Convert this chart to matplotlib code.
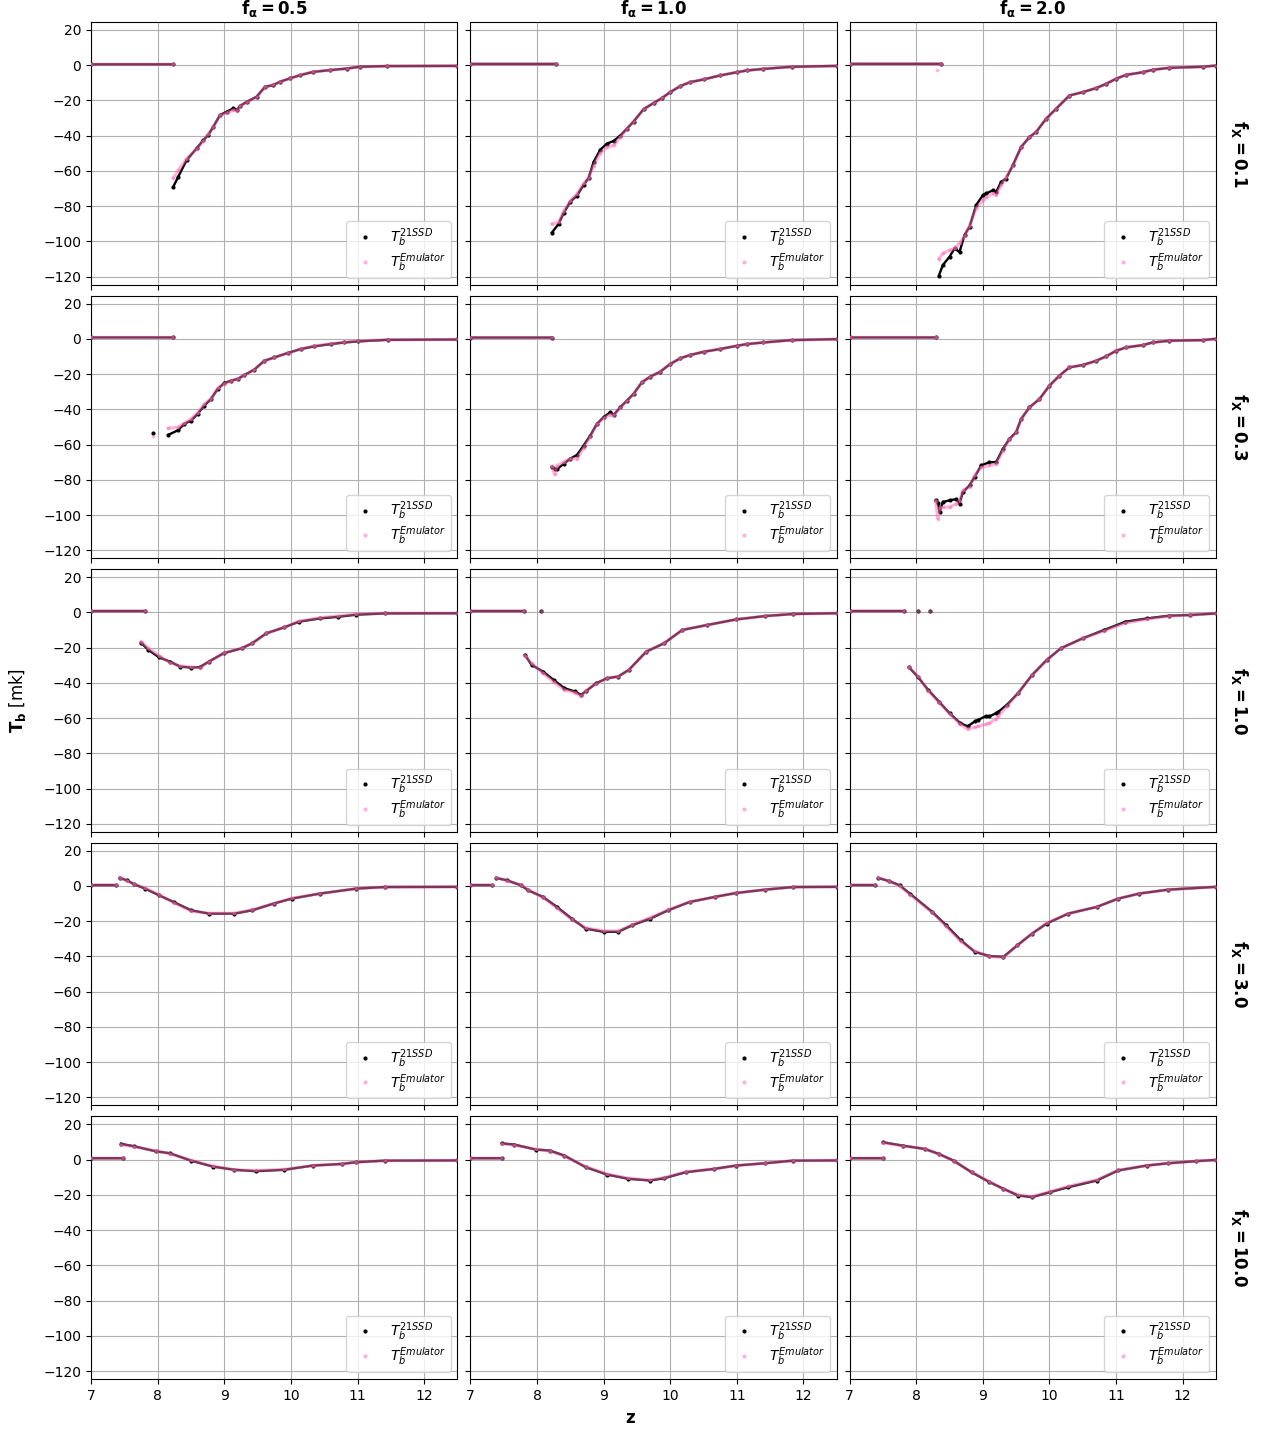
import numpy as np
import matplotlib.pyplot as plt
from matplotlib.lines import Line2D

nan = np.nan

F_ALPHA = [0.5, 1.0, 2.0]
F_X = [0.1, 0.3, 1.0, 3.0, 10.0]

# ---- f_X = 0.1 ----
Z_X01_A05 = [7.0, 8.23, nan, 8.235, 8.31, 8.435, 8.585, 8.685, 8.76, 8.835, 8.935, 9.035, 9.135, 9.185, 9.235,
             9.335, 9.485, 9.61, 9.735, 9.835, 9.985, 10.135, 10.335, 10.585, 10.835, 11.035, 11.435, 12.5]
SSD_X01_A05 = [0.5, 0.5, nan, -68.9, -63.2, -53.8, -47.2, -42.5, -39.6, -34.9, -28.3, -26.4, -24.5, -25.5, -23.2,
               -20.8, -17.9, -12.3, -11.3, -9.4, -7.5, -5.7, -3.8, -2.8, -1.9, -0.9, -0.5, -0.4]
EMU_X01_A05 = [0.5, 0.5, nan, -64.0, -59.5, -53.0, -47.5, -43.0, -39.0, -35.0, -28.5, -27.0, -25.5, -26.0, -23.0,
               -21.0, -18.0, -12.5, -11.0, -9.5, -7.5, -5.5, -3.8, -2.8, -2.0, -1.0, -0.5, -0.4]

Z_X01_A10 = [7.0, 8.29, nan, 8.225, 8.325, 8.4, 8.5, 8.6, 8.7, 8.775, 8.85, 8.95, 9.05, 9.15, 9.25, 9.35, 9.45,
             9.6, 9.75, 9.875, 10.0, 10.15, 10.3, 10.5, 10.75, 11.0, 11.15, 11.4, 11.825, 12.5]
SSD_X01_A10 = [0.7, 0.7, nan, -95, -90, -84, -77.5, -74, -68, -64, -55, -48, -44.5, -43, -40, -36, -32,
               -25, -21.5, -18.7, -15.3, -11.9, -9.6, -8.1, -5.8, -4.0, -3.0, -2.1, -0.9, -0.4]
EMU_X01_A10 = [0.7, 0.7, nan, -90, -89, -83, -77, -73, -67, -64, -57, -50, -46.4, -45.5, -41, -36, -32,
               -25, -21.5, -18.7, -15.3, -11.9, -9.6, -8.1, -5.8, -4.0, -3.0, -2.1, -0.9, -0.4]

Z_X01_A20 = [7.0, 8.375, nan, 8.31, nan, 8.34, 8.4, 8.5, 8.575, 8.65, 8.725, 8.8, 8.9, 9.0, 9.05, 9.15, 9.2, 9.275,
             9.35, 9.45, 9.575, 9.7, 9.8, 9.95, 10.1, 10.3, 10.5, 10.7, 10.85, 11.0, 11.15, 11.4, 11.55, 11.8,
             12.3, 12.5]
SSD_X01_A20 = [0.75, 0.75, nan, nan, nan, -119.4, -113.4, -108.7, -104, -106, -96.4, -91.7, -79.4, -73.8, -72.8,
               -71, -72, -66.2, -64.3, -56.8, -46.4, -40.8, -37.9, -30.4, -24.7, -17.2, -15.3, -13.0, -10.6, -7.7,
               -5.5, -4.0, -2.6, -1.5, -0.9, -0.2]
EMU_X01_A20 = [0.75, 0.75, nan, -2.6, nan, -110, -106.8, -104.9, -104, -101, -97, -91, -81.3, -76.6, -75,
               -72.8, -73.8, -68, -63.4, -57, -46.4, -40.8, -37.9, -30.4, -24.7, -17.2, -15.3, -13.0, -10.6, -7.7,
               -5.5, -4.0, -2.6, -1.5, -0.9, -0.2]

# ---- f_X = 0.3 ----
Z_X03_A05 = [7.0, 8.225, nan, 7.935, nan, 8.16, 8.3, 8.4, 8.5, 8.6, 8.7, 8.8, 8.9, 9.0, 9.1, 9.2, 9.3, 9.45, 9.6,
             9.75, 9.95, 10.15, 10.35, 10.6, 10.8, 11.0, 11.45, 12.5]
SSD_X03_A05 = [0.75, 0.75, nan, -53.4, nan, -54.5, -52, -48.3, -46.4, -42.6, -37.9, -34.2, -28.5, -25.1, -23.8,
               -22.8, -20.6, -17.5, -12.5, -10.6, -8.1, -5.8, -4.3, -3.0, -2.1, -1.5, -0.6, -0.4]
EMU_X03_A05 = [0.75, 0.75, nan, -54.9, nan, -50.8, -50.2, -48, -45.5, -42, -37, -34, -28, -25.5, -24,
               -22.8, -20.6, -17.5, -12.5, -10.6, -8.1, -5.8, -4.0, -2.8, -2.0, -1.2, -0.6, -0.4]

Z_X03_A10 = [7.0, 8.225, nan, 8.225, 8.265, 8.3, 8.4, 8.5, 8.6, 8.7, 8.8, 8.9, 9.0, 9.1, 9.15, 9.25, 9.35, 9.45,
             9.575, 9.7, 9.85, 10.0, 10.15, 10.3, 10.5, 10.75, 11.0, 11.15, 11.4, 11.825, 12.5]
SSD_X03_A10 = [0.7, 0.7, nan, -72.8, -74, -74, -71, -68, -66, -60.6, -54.9, -48.3, -44.5, -41.7, -43.2, -38.9,
               -35.1, -31.3, -24.7, -21.5, -18.7, -14.3, -11.1, -9.2, -7.4, -5.8, -4.0, -3.0, -2.1, -0.75, -0.2]
EMU_X03_A10 = [0.7, 0.7, nan, -72.3, -77, -72, -70, -68, -68, -62, -55.5, -48.5, -45, -43, -43.5, -39,
               -35.1, -31.3, -24.7, -21.5, -18.7, -14.3, -11.1, -9.2, -7.4, -5.8, -4.0, -3.0, -2.1, -0.75, -0.2]

Z_X03_A20 = [7.0, 8.3, nan, 8.29, 8.325, 8.35, 8.4, 8.5, 8.6, 8.65, 8.7, 8.8, 8.875, 8.975, 9.1, 9.2, 9.3, 9.4,
             9.5, 9.575, 9.7, 9.85, 10.0, 10.15, 10.3, 10.5, 10.7, 10.85, 11.0, 11.15, 11.4, 11.55, 11.8, 12.3, 12.5]
SSD_X03_A20 = [0.75, 0.75, nan, -91.7, -93, -98.3, -92.6, -91.7, -91, -93.6, -87, -83.2, -78.5, -71.9, -70, -70,
               -62.5, -56.8, -53, -45.5, -38.9, -34.2, -26.6, -20.9, -16.2, -14.9, -12.5, -10, -6.8, -4.9, -3.6,
               -2.1, -1.1, -0.75, 0]
EMU_X03_A20 = [0.75, 0.75, nan, -92, -102, -96, -95.5, -95.5, -93.6, -92, -86, -84, -77.5, -73, -71.9, -71,
               -63.4, -57, -53, -45.5, -38.9, -34.2, -26.6, -20.9, -16.2, -14.9, -12.5, -10, -6.8, -4.9, -3.6,
               -2.1, -1.1, -0.75, 0]

# ---- f_X = 1.0 ----
Z_X10_A05 = [7.0, 7.81, nan, 7.75, 7.86, 8.02, 8.18, 8.34, 8.5, 8.63, 8.77, 8.99, 9.26, 9.42, 9.63, 9.9, 10.12,
             10.44, 10.71, 10.98, 11.41, 12.5]
SSD_X10_A05 = [0.75, 0.75, nan, -17.2, -21.3, -25.5, -27.9, -30.8, -31.3, -31.1, -27.9, -23.2, -20.4, -17.5,
               -11.9, -8.5, -5.3, -3.4, -2.5, -1.3, -0.6, -0.5]
EMU_X10_A05 = [0.75, 0.75, nan, -16.6, -20.4, -24.5, -28.5, -30.5, -31.0, -31.5, -28, -23, -20.4, -17.5,
               -11.9, -8.5, -5.0, -3.0, -2.0, -1.0, -0.5, -0.5]

Z_X10_A10 = [7.0, 7.8, nan, 8.06, nan, 7.82, 7.92, 8.09, 8.25, 8.41, 8.57, 8.66, 8.73, 8.89, 9.05, 9.22, 9.38,
             9.64, 9.91, 10.18, 10.55, 10.99, 11.42, 11.85, 12.5]
SSD_X10_A10 = [0.75, 0.75, nan, 0.9, nan, -24.2, -29.8, -33.6, -38.3, -43, -44.9, -46.8, -44.9, -40.2, -37.4,
               -36.4, -32.6, -22.3, -17.5, -10, -7.2, -4.0, -2.1, -0.9, -0.5]
EMU_X10_A10 = [0.75, 0.75, nan, 0.9, nan, -24.5, -29, -34.5, -39.5, -44, -45.5, -47.4, -44.5, -40.5, -37.4,
               -36.4, -32.6, -22.3, -17.5, -10, -7.2, -4.0, -2.1, -0.9, -0.5]

Z_X10_A20 = [7.0, 7.81, nan, 8.02, nan, 8.21, nan, 7.89, 8.02, 8.18, 8.34, 8.5, 8.66, 8.77, 8.88, 8.93, 9.04, 9.1,
             9.2, 9.23, 9.36, 9.53, 9.74, 9.96, 10.17, 10.5, 10.82, 11.14, 11.47, 11.79, 12.11, 12.5]
SSD_X10_A20 = [0.75, 0.75, nan, 0.75, nan, 0.75, nan, -31.1, -36.4, -44, -50.6, -57.2, -62.8, -64.7, -61.9, -61,
               -59, -59, -57.2, -56.5, -52.5, -45.8, -35.5, -27, -20.4, -14.7, -10, -5.3, -3.4, -1.9, -1.5, -0.6]
EMU_X10_A20 = [0.75, 0.75, nan, 0.75, nan, 0.75, nan, -31, -36, -44.5, -51, -57.5, -63.5, -66.2, -65, -64.7,
               -63.5, -62.8, -60.5, -59, -53.4, -45.8, -35.5, -27, -20.4, -14.7, -10.5, -6, -3.8, -2.2, -1.5, -0.6]

# ---- f_X = 3.0 ----
Z_X30_A05 = [7.0, 7.38, nan, 7.43, 7.54, 7.65, 7.81, 8.02, 8.24, 8.5, 8.77, 9.15, 9.42, 9.74, 10.01, 10.44,
             10.98, 11.41, 12.5]
SSD_X30_A05 = [0.5, 0.5, nan, 4.5, 3.2, 0.9, -1.5, -5.3, -9.1, -13.8, -15.7, -15.7, -13.8, -10, -7.2, -4.3,
               -1.5, -0.6, -0.5]
EMU_X30_A05 = [0.5, 0.5, nan, 4.8, 3.0, 1.0, -1.2, -5.0, -9.5, -14.2, -15.5, -15.5, -13.5, -10, -7.0, -4.3,
               -1.5, -0.6, -0.5]

Z_X30_A10 = [7.0, 7.33, nan, 7.39, 7.55, 7.76, 7.87, 8.09, 8.3, 8.52, 8.73, 9.0, 9.22, 9.43, 9.7, 9.97, 10.29,
             10.67, 10.99, 11.42, 11.85, 12.5]
SSD_X30_A10 = [0.5, 0.5, nan, 4.5, 3.2, 0.4, -2.5, -6.2, -11.9, -18.5, -24.2, -26, -26, -22.3, -18.5, -13.8,
               -9.1, -6.2, -4.0, -2.1, -0.6, -0.5]
EMU_X30_A10 = [0.5, 0.5, nan, 4.8, 3.0, 0.6, -2.2, -6.5, -12.5, -19.0, -23.8, -25.5, -25.5, -22.0, -18.0,
               -13.5, -9.1, -6.2, -4.0, -2.1, -0.6, -0.5]

Z_X30_A20 = [7.0, 7.38, nan, 7.43, 7.59, 7.75, 7.91, 8.24, 8.45, 8.67, 8.88, 9.1, 9.31, 9.52, 9.74, 9.96, 10.28,
             10.71, 11.03, 11.35, 11.78, 12.5]
SSD_X30_A20 = [0.5, 0.5, nan, 4.5, 2.8, 0.4, -4.5, -14.7, -22.3, -30.8, -37.4, -39.8, -40.2, -33.6, -27, -21.3,
               -15.7, -11.9, -7.2, -4.3, -2.1, -0.5]
EMU_X30_A20 = [0.5, 0.5, nan, 4.8, 2.6, 0.2, -5.0, -15.0, -23.0, -31.5, -37.0, -40.0, -40.5, -33.6, -27, -21.0,
               -15.7, -11.9, -7.2, -4.3, -2.1, -0.5]

# ---- f_X = 10.0 ----
Z_X100_A05 = [7.0, 7.48, nan, 7.45, 7.65, 7.97, 8.18, 8.5, 8.83, 9.15, 9.47, 9.9, 10.33, 10.76, 10.98, 11.41, 12.5]
SSD_X100_A05 = [0.75, 0.75, nan, 8.9, 7.5, 4.7, 3.6, -0.6, -4.0, -5.8, -6.6, -5.8, -3.4, -2.5, -1.5, -0.6, -0.5]
EMU_X100_A05 = [0.75, 0.75, nan, 8.5, 7.3, 4.9, 3.4, -0.4, -3.8, -5.8, -6.2, -5.6, -3.4, -2.5, -1.5, -0.6, -0.5]

Z_X100_A10 = [7.0, 7.47, nan, 7.47, 7.66, 7.98, 8.19, 8.41, 8.73, 9.05, 9.37, 9.7, 9.91, 10.23, 10.66, 10.99,
              11.42, 11.85, 12.5]
SSD_X100_A10 = [0.75, 0.75, nan, 9.2, 8.5, 5.7, 5.1, 2.3, -4.3, -8.5, -10.9, -11.9, -10.6, -7.2, -5.3, -3.4,
                -2.1, -0.6, -0.5]
EMU_X100_A10 = [0.75, 0.75, nan, 9.0, 8.2, 5.9, 4.8, 2.0, -4.0, -8.2, -10.6, -11.6, -10.2, -7.0, -5.3, -3.4,
                -2.1, -0.6, -0.5]

Z_X100_A20 = [7.0, 7.5, nan, 7.5, 7.8, 8.13, 8.34, 8.56, 8.83, 9.1, 9.31, 9.53, 9.74, 10.01, 10.28, 10.71, 11.03,
              11.46, 11.78, 12.2, 12.5]
SSD_X100_A20 = [0.75, 0.75, nan, 9.8, 7.9, 6.0, 3.2, -0.6, -7.2, -12.8, -16.6, -20.4, -21.3, -18.5, -15.7, -11.9,
                -6.2, -3.4, -2.1, -0.9, -0.2]
EMU_X100_A20 = [0.75, 0.75, nan, 9.6, 7.7, 6.2, 3.0, -0.8, -7.0, -12.5, -16.8, -20.0, -21.0, -18.2, -15.2, -11.5,
                -6.0, -3.4, -2.1, -0.9, -0.2]

Z_ALL = [[Z_X01_A05, Z_X01_A10, Z_X01_A20],
         [Z_X03_A05, Z_X03_A10, Z_X03_A20],
         [Z_X10_A05, Z_X10_A10, Z_X10_A20],
         [Z_X30_A05, Z_X30_A10, Z_X30_A20],
         [Z_X100_A05, Z_X100_A10, Z_X100_A20]]
SSD_ALL = [[SSD_X01_A05, SSD_X01_A10, SSD_X01_A20],
           [SSD_X03_A05, SSD_X03_A10, SSD_X03_A20],
           [SSD_X10_A05, SSD_X10_A10, SSD_X10_A20],
           [SSD_X30_A05, SSD_X30_A10, SSD_X30_A20],
           [SSD_X100_A05, SSD_X100_A10, SSD_X100_A20]]
EMU_ALL = [[EMU_X01_A05, EMU_X01_A10, EMU_X01_A20],
           [EMU_X03_A05, EMU_X03_A10, EMU_X03_A20],
           [EMU_X10_A05, EMU_X10_A10, EMU_X10_A20],
           [EMU_X30_A05, EMU_X30_A10, EMU_X30_A20],
           [EMU_X100_A05, EMU_X100_A10, EMU_X100_A20]]

EMU_COLOR = "hotpink"


def main():
    fig, axes = plt.subplots(5, 3, figsize=(12.7, 14.3), dpi=100, sharex=True, sharey=True)
    fig.subplots_adjust(left=0.0717, right=0.9575, top=0.9846, bottom=0.0357, wspace=0.035, hspace=0.042)

    # legend shows plain dots, as in a scatter plot
    handles = [
        Line2D([], [], ls="", marker="o", ms=2, color="black"),
        Line2D([], [], ls="", marker="o", ms=3, color=EMU_COLOR, alpha=0.5, mec="none"),
    ]
    labels = [r"$T_b^{21SSD}$", r"$T_b^{Emulator}$"]

    for i, fx in enumerate(F_X):
        for j, fa in enumerate(F_ALPHA):
            ax = axes[i, j]
            ax.plot(Z_ALL[i][j], SSD_ALL[i][j], color="black", lw=1.7, marker="o", ms=2, zorder=3)
            ax.plot(Z_ALL[i][j], EMU_ALL[i][j], color=EMU_COLOR, alpha=0.5, lw=2.3, marker="o", ms=2.6,
                    mec="none", zorder=4)
            ax.grid(True)
            ax.set_xlim(7, 12.5)
            ax.set_ylim(-124.5, 24.5)
            ax.set_yticks([20, 0, -20, -40, -60, -80, -100, -120])
            ax.set_xticks([7, 8, 9, 10, 11, 12])
            ax.legend(handles, labels, loc="lower right", fontsize=10, labelspacing=0.15, borderpad=0.35)
            if i == 0:
                ax.set_title(r"$\mathbf{f_{\alpha} = %.1f}$" % fa, fontsize=12)
            if j == 2:
                ax.text(1.065, 0.5, r"$\mathbf{f_X = %.1f}$" % fx, transform=ax.transAxes,
                        rotation=270, ha="center", va="center", fontsize=12)

    fig.text(0.014, 0.51, r"$\mathbf{T_b}$ [mk]", rotation=90, ha="center", va="center", fontsize=12)
    fig.text(0.496, 0.0084, "z", fontweight="bold", ha="center", va="center", fontsize=12)

    fig.savefig("out.png", dpi=100)


if __name__ == "__main__":
    main()
